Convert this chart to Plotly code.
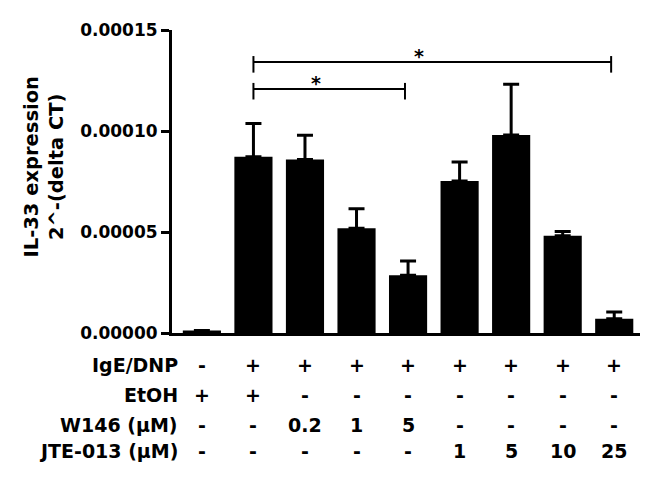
import plotly.graph_objects as go

# groups (one bar each)
groups = ["ctrl", "IgE", "W0.2", "W1", "W5", "J1", "J5", "J10", "J25"]
means = [0.0000012, 0.0000873, 0.0000859, 0.0000518, 0.0000286,
         0.0000753, 0.0000980, 0.0000481, 0.0000071]
sem = [0.0, 0.0000164, 0.0000120, 0.0000097, 0.0000071,
       0.0000094, 0.0000252, 0.0000022, 0.0000033]

# treatment table under the bars
row_labels = ["IgE/DNP", "EtOH", "W146 (\u00b5M)", "JTE-013 (\u00b5M)"]
row_values = [
    ["-", "+", "+", "+", "+", "+", "+", "+", "+"],
    ["+", "+", "-", "-", "-", "-", "-", "-", "-"],
    ["-", "-", "0.2", "1", "5", "-", "-", "-", "-"],
    ["-", "-", "-", "-", "-", "1", "5", "10", "25"],
]

# significance brackets: (from bar, to bar, level)
brackets = [(1, 8, 0.0001341), (1, 4, 0.0001208)]

FONT = "DejaVu Sans, Liberation Sans, sans-serif"
x = list(range(len(groups)))

fig = go.Figure()
fig.add_trace(
    go.Bar(
        x=x,
        y=means,
        marker=dict(color="black", line=dict(width=0)),
        error_y=dict(
            type="data",
            symmetric=False,
            array=sem,
            arrayminus=[0] * len(sem),
            color="black",
            thickness=3,
            width=8,
        ),
        showlegend=False,
    )
)

shapes = []
annotations = []
for a, b, lvl in brackets:
    xa, xb = x[a], x[b] - 0.06
    shapes.append(dict(type="line", xref="x", yref="y", x0=xa, x1=xb, y0=lvl, y1=lvl,
                       line=dict(color="black", width=2)))
    for xx in (xa, xb):
        shapes.append(dict(type="line", xref="x", yref="y", x0=xx, x1=xx,
                           y0=lvl - 0.0000052, y1=lvl + 0.0000030,
                           line=dict(color="black", width=2)))
    annotations.append(dict(x=(xa + xb) / 2 - 0.25, y=lvl, xref="x", yref="y",
                            text="*", showarrow=False, yanchor="bottom", yshift=-7,
                            font=dict(family=FONT, size=19, color="black", weight="bold")))

row_pix = [32, 62, 92, 118]
for label, vals, dy in zip(row_labels, row_values, row_pix):
    annotations.append(dict(x=0, y=0, xref="paper", yref="paper", xanchor="right",
                            yanchor="middle", xshift=8, yshift=-dy, text=label,
                            showarrow=False,
                            font=dict(family=FONT, size=19, color="black", weight="bold")))
    for xi, v in zip(x, vals):
        annotations.append(dict(x=xi, y=0, xref="x", yref="paper", xanchor="center",
                                yanchor="middle", yshift=-dy, text=v, showarrow=False,
                                font=dict(family=FONT, size=19, color="black", weight="bold")))

annotations.append(dict(x=0, y=0.5, xref="paper", yref="paper", xshift=-129, yshift=14,
                        xanchor="center", yanchor="middle", textangle=-90,
                        text="IL-33 expression<br>2^-(delta CT)", showarrow=False,
                        font=dict(family=FONT, size=19.5, color="black", weight="bold")))

# the page body has an 8px margin, so the margins are shifted to match
fig.update_layout(
    width=658,
    height=480,
    margin=dict(l=164, r=26, t=16, b=155),
    paper_bgcolor="white",
    plot_bgcolor="white",
    bargap=0.26,
    shapes=shapes,
    annotations=annotations,
    xaxis=dict(range=[-0.58, 8.5], showline=True, linecolor="black", linewidth=3,
               showticklabels=False, ticks="", showgrid=False, zeroline=False),
    yaxis=dict(range=[0, 0.00015], tickvals=[0, 0.00005, 0.0001, 0.00015],
               tickformat=".5f", showline=True, linecolor="black", linewidth=3,
               ticks="outside", ticklen=8, tickwidth=3, tickcolor="black",
               showgrid=False, zeroline=False,
               tickfont=dict(family=FONT, size=17, color="black", weight="bold")),
)

fig.write_html("out.html")
